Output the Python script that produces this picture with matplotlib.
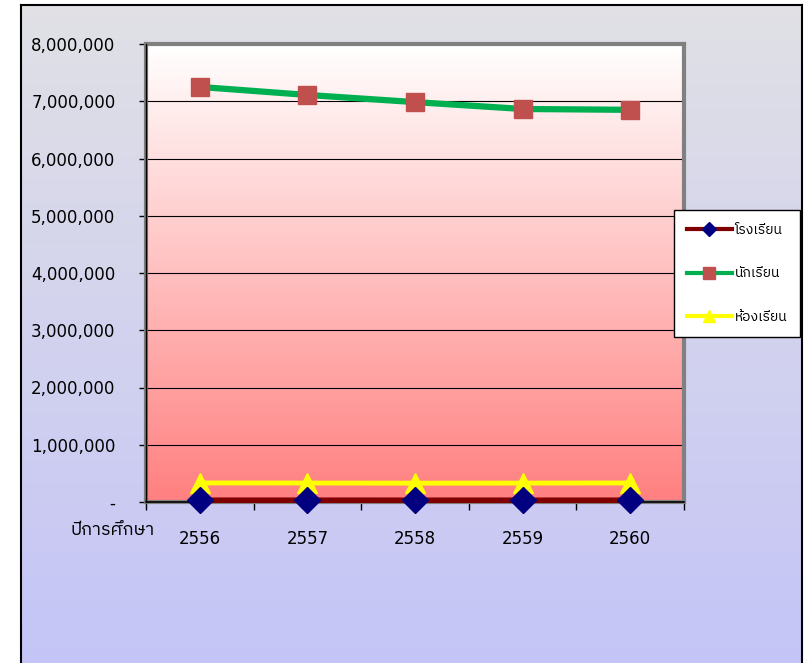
import numpy as np
import matplotlib
matplotlib.use("Agg")
import matplotlib.pyplot as plt
from matplotlib import font_manager
from matplotlib.ft2font import FT2Font
from matplotlib.lines import Line2D

# data
years = ["2556", "2557", "2558", "2559", "2560"]
schools = [31000, 30900, 30700, 30500, 30300]
students = [7250000, 7110000, 6985000, 6865000, 6850000]
classrooms = [333000, 331000, 329000, 330000, 332000]
series_names = ["โรงเรียน", "นักเรียน", "ห้องเรียน"]
x_title = "ปีการศึกษา"
y_ticks = [0, 1000000, 2000000, 3000000, 4000000, 5000000, 6000000, 7000000, 8000000]

# find a font with thai glyphs
thai_font = None
for f in font_manager.fontManager.ttflist:
    try:
        if 0x0E1B in FT2Font(f.fname).get_charmap():
            thai_font = f.name
            if "Thai" in f.name or "Tahoma" in f.name:
                break
    except Exception:
        pass
fams = ["DejaVu Sans"]
if thai_font:
    fams = ["DejaVu Sans", thai_font]
plt.rcParams["font.family"] = fams

W, H = 805, 663
fig = plt.figure(figsize=(W / 100, H / 100), dpi=100)
fig.patch.set_facecolor("white")

# outer chart area gradient
bg = fig.add_axes([21 / W, 0, (802 - 21) / W, (H - 5) / H], zorder=-10)
top = np.array([0.88, 0.88, 0.90])
bot = np.array([0.77, 0.77, 0.97])
t = np.linspace(0, 1, 256)[:, None]
grad = top[None, :] * (1 - t) + bot[None, :] * t
bg.imshow(grad[:, None, :], aspect="auto", extent=[0, 1, 0, 1])
bg.set_xlim(0, 1)
bg.set_ylim(0, 1)
bg.set_xticks([])
bg.set_yticks([])
for s in ["left", "top", "right"]:
    bg.spines[s].set_color("black")
    bg.spines[s].set_linewidth(1.5)
bg.spines["bottom"].set_visible(False)

# plot area
ax = fig.add_axes([146 / W, 1 - 502 / H, (684 - 146) / W, (502 - 44) / H])
ax.patch.set_alpha(0)
ptop = np.array([1.0, 1.0, 1.0])
pbot = np.array([1.0, 0.5, 0.5])
pgrad = ptop[None, :] * (1 - t) + pbot[None, :] * t
ax.imshow(pgrad[:, None, :], aspect="auto", extent=[0, 1, 0, 1],
          transform=ax.transAxes, zorder=0)

x = np.arange(len(years))
ax.set_xlim(-0.5, len(years) - 0.5)
ax.set_ylim(0, 8000000)

for yv in y_ticks[1:]:
    ax.axhline(yv, color="black", lw=0.8, zorder=1)

ax.plot(x, classrooms, color="#ffff00", lw=3.5, marker="^", markersize=14,
        markerfacecolor="#ffff00", markeredgecolor="#ffff00", zorder=3)
ax.plot(x, students, color="#00b050", lw=4.5, marker="s", markersize=13,
        markerfacecolor="#c0504d", markeredgecolor="#c0504d", zorder=4)
ax.plot(x, schools, color="#800000", lw=4, marker="D", markersize=13,
        markerfacecolor="#000080", markeredgecolor="#000080", zorder=6,
        clip_on=False)

for s in ["left", "top", "right", "bottom"]:
    ax.spines[s].set_color("#808080")
    ax.spines[s].set_linewidth(3)
ax.axhline(0, color="black", lw=1.2, zorder=5, clip_on=False)
ax.axvline(-0.5, color="black", lw=1.0, zorder=5, clip_on=False)

ax.set_yticks(y_ticks)
ax.set_yticklabels(["-"] + ["{:,}".format(v) for v in y_ticks[1:]])
ax.tick_params(axis="y", direction="out", length=5, width=1, color="black",
               pad=17, labelsize=12, labelcolor="black")
ax.set_xticks(x)
ax.set_xticklabels(years)
ax.tick_params(axis="x", which="major", length=0, pad=20, labelsize=12)
ax.set_xticks(np.arange(len(years) + 1) - 0.5, minor=True)
ax.tick_params(axis="x", which="minor", direction="out", length=6, width=1,
               color="black")

fig.text(113 / W, 1 - 530 / H, x_title, ha="center", va="center", fontsize=13)

# legend
handles = [
    Line2D([], [], color="#800000", lw=3, marker="D", markersize=7,
           markerfacecolor="#000080", markeredgecolor="#000080"),
    Line2D([], [], color="#00b050", lw=3, marker="s", markersize=8,
           markerfacecolor="#c0504d", markeredgecolor="#c0504d"),
    Line2D([], [], color="#ffff00", lw=3, marker="^", markersize=8,
           markerfacecolor="#ffff00", markeredgecolor="#ffff00"),
]
leg = fig.legend(handles, series_names, loc="upper left",
                 bbox_to_anchor=(674 / W, 1 - 210 / H), fontsize=10,
                 frameon=True, fancybox=False, handlelength=3.3,
                 labelspacing=2.15, borderpad=0.9, handletextpad=0.15,
                 borderaxespad=0, framealpha=1, facecolor="white")
leg.get_frame().set_edgecolor("black")
leg.get_frame().set_linewidth(1)

fig.savefig("out.png", dpi=100)
plt.close()
